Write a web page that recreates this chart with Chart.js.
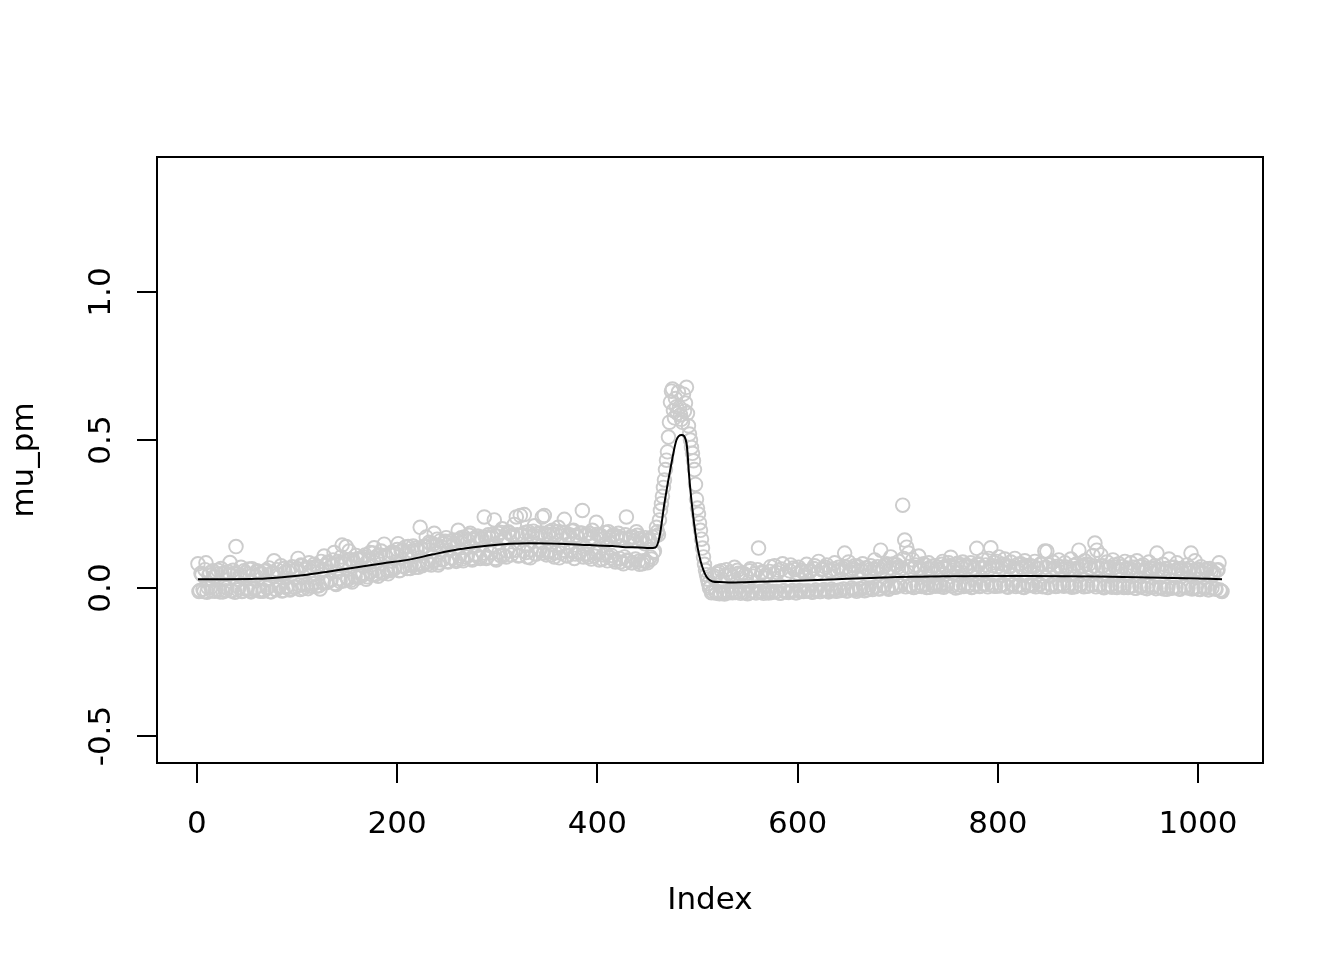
<!DOCTYPE html>
<html>
<head>
<meta charset="utf-8">
<script src="https://cdn.jsdelivr.net/npm/chart.js@4.4.1/dist/chart.umd.min.js"></script>
<style>
html,body{margin:0;padding:0;background:#ffffff;}
#wrap{width:1344px;height:960px;}
</style>
</head>
<body>
<div id="wrap"><canvas id="c" width="1344" height="960"></canvas></div>
<script>
// ---- axis ticks & labels ----
const xTicks = [0, 200, 400, 600, 800, 1000];
const xTickLabels = ["0", "200", "400", "600", "800", "1000"];
const yTicks = [-0.5, 0, 0.5, 1.0];
const yTickLabels = ["-0.5", "0.0", "0.5", "1.0"];
const xTitle = "Index";
const yTitle = "mu_pm";
const xRange = [-39.92, 1064.92];
const yRange = [-0.591, 1.456];

// ---- smooth fit (black line) ----
const fitIndex = [1, 30, 60, 90, 110, 132, 160, 185, 212, 235, 260, 292, 330, 360, 392, 415, 428, 442, 452, 458,
  462, 467, 474, 479, 484, 489, 492, 495, 500, 507, 515, 522, 535, 560, 600, 650, 700, 750, 830, 900, 950, 1000, 1024];
const fitValue = [0.030, 0.030, 0.031, 0.038, 0.045, 0.056, 0.070, 0.083, 0.096, 0.113, 0.130, 0.144, 0.151, 0.150, 0.145, 0.142, 0.138, 0.137, 0.135, 0.137,
  0.172, 0.287, 0.422, 0.500, 0.517, 0.490, 0.365, 0.264, 0.139, 0.051, 0.022, 0.020, 0.019, 0.021, 0.025, 0.031, 0.037, 0.040, 0.041, 0.039, 0.036, 0.032, 0.030];

// ---- observations (grey circles) at odd indices 1,3,...,1023 ----
const obsValueOdd = [
  0.082, -0.008, 0.045, -0.012, 0.085, 0.002, 0.052, -0.010, 0.038, -0.005, 0.060, -0.013, 0.048, 0.004, -0.009, 0.055,
  0.086, -0.010, 0.050, 0.140, -0.006, 0.042, -0.012, 0.058, 0.001, 0.047, -0.009, 0.065, -0.004, 0.040, 0.055, -0.011,
  0.048, -0.008, 0.060, 0.003, -0.012, 0.052, 0.092, -0.006, 0.045, 0.008, -0.010, 0.066, 0.002, 0.055, -0.007, 0.072,
  0.004, 0.060, 0.100, -0.005, 0.075, 0.010, 0.068, -0.002, 0.058, 0.015, 0.080, 0.006, 0.070, -0.003, 0.062, 0.108,
  0.018, 0.088, 0.025, 0.078, 0.120, 0.012, 0.090, 0.022, 0.145, 0.080, 0.140, 0.030, 0.096, 0.020, 0.085, 0.110,
  0.035, 0.098, 0.042, 0.105, 0.030, 0.092, 0.120, 0.045, 0.136, 0.100, 0.040, 0.112, 0.052, 0.148, 0.105, 0.048,
  0.058, 0.122, 0.065, 0.115, 0.150, 0.060, 0.128, 0.072, 0.118, 0.140, 0.066, 0.125, 0.080, 0.135, 0.070, 0.205,
  0.075, 0.140, 0.172, 0.082, 0.150, 0.090, 0.185, 0.145, 0.078, 0.160, 0.095, 0.150, 0.170, 0.088, 0.158, 0.100,
  0.150, 0.090, 0.195, 0.165, 0.098, 0.172, 0.105, 0.160, 0.185, 0.095, 0.168, 0.110, 0.175, 0.100, 0.165, 0.240,
  0.100, 0.180, 0.120, 0.172, 0.230, 0.095, 0.185, 0.110, 0.200, 0.168, 0.105, 0.190, 0.125, 0.178, 0.215, 0.240,
  0.108, 0.245, 0.180, 0.248, 0.120, 0.190, 0.102, 0.175, 0.210, 0.115, 0.185, 0.130, 0.240, 0.245, 0.112, 0.182,
  0.125, 0.195, 0.105, 0.180, 0.205, 0.118, 0.188, 0.232, 0.110, 0.175, 0.130, 0.192, 0.100, 0.178, 0.122, 0.185,
  0.262, 0.115, 0.182, 0.105, 0.170, 0.195, 0.108, 0.222, 0.120, 0.178, 0.098, 0.168, 0.115, 0.190, 0.102, 0.175,
  0.095, 0.170, 0.185, 0.088, 0.165, 0.105, 0.240, 0.092, 0.172, 0.085, 0.160, 0.190, 0.090, 0.168, 0.082, 0.150,
  0.090, 0.160, 0.105, 0.172, 0.125, 0.205, 0.180, 0.262, 0.310, 0.365, 0.432, 0.510, 0.628, 0.672, 0.575, 0.612,
  0.662, 0.585, 0.560, 0.598, 0.678, 0.548, 0.500, 0.455, 0.400, 0.300, 0.250, 0.195, 0.135, 0.080, 0.045, 0.015,
  0.005, -0.012, 0.040, -0.018, 0.055, -0.015, 0.030, -0.020, 0.062, -0.012, 0.045, -0.016, 0.070, -0.010, 0.050, -0.018,
  0.052, -0.015, 0.038, -0.018, 0.065, -0.012, 0.048, -0.016, 0.135, -0.014, 0.055, -0.010, 0.042, -0.017, 0.072, -0.012,
  0.075, -0.012, 0.060, -0.018, 0.082, -0.010, 0.048, -0.015, 0.078, -0.008, 0.062, -0.016, 0.070, -0.012, 0.055, -0.010,
  0.080, -0.010, 0.058, -0.014, 0.075, -0.008, 0.090, -0.012, 0.065, -0.006, 0.078, -0.013, 0.060, -0.009, 0.085, -0.011,
  0.070, -0.008, 0.066, 0.118, -0.010, 0.088, 0.062, -0.006, 0.075, -0.011, 0.058, -0.004, 0.082, -0.009, 0.068, 0.000,
  0.075, -0.005, 0.095, 0.062, -0.002, 0.128, 0.070, 0.010, 0.082, -0.004, 0.105, 0.065, 0.005, 0.078, 0.090, 0.008,
  0.280, 0.162, 0.138, 0.118, 0.010, 0.095, 0.070, 0.005, 0.108, 0.060, 0.012, 0.078, 0.002, 0.085, 0.065, 0.008,
  0.075, 0.012, 0.062, 0.005, 0.090, 0.072, 0.010, 0.085, 0.104, 0.008, 0.068, 0.080, 0.003, 0.075, 0.088, 0.012,
  0.070, 0.010, 0.085, 0.004, 0.062, 0.134, 0.078, 0.008, 0.095, 0.068, 0.012, 0.100, 0.136, 0.075, 0.006, 0.090,
  0.105, 0.010, 0.080, 0.098, 0.005, 0.072, 0.088, 0.012, 0.100, 0.065, 0.008, 0.082, 0.004, 0.092, 0.070, 0.010,
  0.075, 0.008, 0.090, 0.068, 0.012, 0.082, 0.004, 0.125, 0.124, 0.078, 0.010, 0.088, 0.065, 0.006, 0.095, 0.072,
  0.012, 0.085, 0.070, 0.008, 0.098, 0.064, 0.004, 0.082, 0.128, 0.010, 0.075, 0.092, 0.006, 0.080, 0.068, 0.110,
  0.152, 0.128, 0.010, 0.112, 0.075, 0.004, 0.088, 0.065, 0.010, 0.095, 0.070, 0.002, 0.082, 0.060, 0.008, 0.090,
  0.068, 0.005, 0.085, 0.060, 0.000, 0.092, 0.072, 0.006, 0.078, 0.058, -0.002, 0.088, 0.065, 0.004, 0.075, 0.118,
  0.062, 0.000, 0.080, 0.055, -0.004, 0.098, 0.070, 0.002, 0.058, 0.085, -0.002, 0.066, 0.050, 0.004, 0.078, 0.060,
  0.118, 0.002, 0.092, 0.060, -0.004, 0.072, 0.050, 0.000, 0.065, -0.006, 0.055, 0.045, -0.002, 0.060, 0.085, -0.010
];

// ---- observations (grey circles) at even indices 2,4,...,1024 ----
const obsValueEven = [
  -0.012, 0.050, -0.004, 0.062, -0.014, 0.044, 0.003, 0.058, -0.011, 0.048, -0.006, 0.066, -0.013, 0.052, 0.001, 0.046,
  -0.009, 0.060, -0.014, 0.047, 0.002, 0.070, -0.010, 0.052, -0.005, 0.064, -0.013, 0.045, 0.000, 0.058, -0.008, 0.050,
  -0.011, 0.056, 0.000, 0.068, -0.013, 0.049, -0.004, 0.062, 0.004, 0.075, -0.008, 0.053, 0.006, 0.066, -0.002, 0.058,
  0.002, 0.066, 0.010, 0.078, -0.002, 0.062, 0.012, 0.085, 0.006, 0.070, 0.016, 0.074, 0.008, 0.090, 0.018, 0.076,
  0.020, 0.085, 0.028, 0.095, 0.016, 0.082, 0.032, 0.105, 0.024, 0.090, 0.035, 0.125, 0.026, 0.092, 0.038, 0.098,
  0.040, 0.102, 0.050, 0.112, 0.038, 0.096, 0.055, 0.118, 0.045, 0.108, 0.058, 0.125, 0.050, 0.110, 0.060, 0.115,
  0.062, 0.118, 0.070, 0.130, 0.058, 0.124, 0.075, 0.138, 0.066, 0.122, 0.078, 0.142, 0.070, 0.128, 0.082, 0.135,
  0.080, 0.142, 0.090, 0.155, 0.078, 0.148, 0.095, 0.165, 0.085, 0.140, 0.098, 0.158, 0.090, 0.152, 0.102, 0.162,
  0.095, 0.160, 0.108, 0.170, 0.092, 0.165, 0.112, 0.178, 0.100, 0.162, 0.115, 0.175, 0.105, 0.168, 0.118, 0.172,
  0.105, 0.170, 0.118, 0.182, 0.100, 0.175, 0.122, 0.188, 0.110, 0.172, 0.125, 0.185, 0.112, 0.178, 0.128, 0.180,
  0.110, 0.178, 0.125, 0.188, 0.105, 0.182, 0.128, 0.192, 0.115, 0.175, 0.130, 0.186, 0.118, 0.180, 0.122, 0.190,
  0.112, 0.182, 0.120, 0.190, 0.102, 0.176, 0.128, 0.188, 0.108, 0.180, 0.125, 0.195, 0.115, 0.172, 0.118, 0.186,
  0.105, 0.178, 0.115, 0.185, 0.098, 0.170, 0.120, 0.182, 0.095, 0.175, 0.112, 0.188, 0.092, 0.168, 0.110, 0.180,
  0.088, 0.175, 0.100, 0.168, 0.082, 0.180, 0.095, 0.165, 0.085, 0.172, 0.098, 0.178, 0.080, 0.162, 0.092, 0.170,
  0.085, 0.165, 0.098, 0.120, 0.175, 0.190, 0.230, 0.285, 0.340, 0.400, 0.460, 0.560, 0.665, 0.600, 0.640, 0.590,
  0.610, 0.570, 0.655, 0.625, 0.590, 0.520, 0.475, 0.430, 0.350, 0.270, 0.220, 0.165, 0.105, 0.060, 0.030, 0.000,
  -0.016, 0.035, -0.010, 0.048, -0.019, 0.058, -0.013, 0.042, -0.017, 0.052, -0.008, 0.038, -0.015, 0.060, -0.011, 0.046,
  -0.014, 0.045, -0.019, 0.058, -0.010, 0.040, -0.016, 0.062, -0.012, 0.050, -0.018, 0.044, -0.009, 0.056, -0.015, 0.048,
  -0.013, 0.052, -0.017, 0.064, -0.009, 0.046, -0.014, 0.058, -0.011, 0.068, -0.016, 0.050, -0.008, 0.060, -0.012, 0.054,
  -0.010, 0.055, -0.013, 0.066, -0.007, 0.050, -0.012, 0.062, -0.006, 0.070, -0.010, 0.056, -0.004, 0.064, -0.009, 0.058,
  -0.007, 0.060, -0.003, 0.070, -0.009, 0.055, 0.000, 0.066, -0.005, 0.074, -0.002, 0.058, 0.002, 0.068, -0.006, 0.062,
  0.000, 0.064, 0.004, 0.072, -0.003, 0.060, 0.006, 0.076, 0.002, 0.068, 0.008, 0.082, 0.003, 0.070, 0.010, 0.066,
  0.100, 0.004, 0.072, 0.008, 0.064, 0.002, 0.078, 0.010, 0.068, 0.005, 0.082, 0.012, 0.066, 0.003, 0.074, 0.009,
  0.006, 0.070, 0.010, 0.080, 0.003, 0.066, 0.012, 0.076, 0.007, 0.072, 0.000, 0.084, 0.010, 0.068, 0.005, 0.078,
  0.008, 0.074, 0.002, 0.068, 0.011, 0.082, 0.005, 0.070, 0.013, 0.078, 0.004, 0.066, 0.009, 0.086, 0.006, 0.072,
  0.007, 0.068, 0.012, 0.078, 0.003, 0.072, 0.010, 0.066, 0.005, 0.080, 0.011, 0.070, 0.002, 0.076, 0.008, 0.064,
  0.010, 0.072, 0.004, 0.066, 0.012, 0.080, 0.006, 0.070, 0.002, 0.078, 0.009, 0.068, 0.005, 0.074, 0.011, 0.062,
  0.006, 0.070, 0.010, 0.064, 0.003, 0.076, 0.008, 0.068, 0.012, 0.072, 0.004, 0.080, 0.007, 0.066, 0.010, 0.074,
  0.004, 0.068, 0.009, 0.074, 0.001, 0.064, 0.007, 0.070, 0.003, 0.078, 0.006, 0.062, 0.010, 0.072, 0.002, 0.066,
  0.002, 0.064, 0.007, 0.070, -0.001, 0.060, 0.005, 0.072, 0.001, 0.066, 0.008, 0.058, 0.003, 0.068, -0.002, 0.062,
  0.003, 0.060, -0.003, 0.066, 0.004, 0.056, -0.001, 0.070, 0.002, 0.062, -0.004, 0.058, 0.005, 0.064, 0.000, 0.068,
  -0.003, 0.058, 0.002, 0.064, -0.005, 0.054, 0.001, 0.060, -0.006, 0.066, 0.000, 0.052, -0.004, 0.062, -0.007, -0.012
];

// ---- build datasets (x = observation index) ----
const obsPoints = [];
obsValueOdd.forEach((v, i) => {
  obsPoints.push({ x: 2 * i + 1, y: v });
  if (i < obsValueEven.length) obsPoints.push({ x: 2 * i + 2, y: obsValueEven[i] });
});
const fitPoints = fitIndex.map((xv, i) => ({ x: xv, y: fitValue[i] }));

const FONT = '31px "DejaVu Sans", "Liberation Sans", sans-serif';

const framePlugin = {
  id: 'framePlugin',
  afterDraw(chart) {
    const { ctx, chartArea: a, scales } = chart;
    const xs = scales.x, ys = scales.y;
    ctx.save();
    ctx.strokeStyle = '#000000';
    ctx.lineWidth = 2;
    ctx.strokeRect(a.left, a.top, a.right - a.left, a.bottom - a.top);
    ctx.fillStyle = '#000000';
    ctx.font = FONT;
    ctx.textAlign = 'center';
    ctx.textBaseline = 'alphabetic';
    xTicks.forEach((v, i) => ctx.fillText(xTickLabels[i], xs.getPixelForValue(v), a.bottom + 70));
    ctx.fillText(xTitle, (a.left + a.right) / 2, a.bottom + 146);
    yTicks.forEach((v, i) => {
      ctx.save();
      ctx.translate(a.left - 47, ys.getPixelForValue(v));
      ctx.rotate(-Math.PI / 2);
      ctx.fillText(yTickLabels[i], 0, 0);
      ctx.restore();
    });
    ctx.save();
    ctx.translate(a.left - 124, (a.top + a.bottom) / 2);
    ctx.rotate(-Math.PI / 2);
    ctx.fillText(yTitle, 0, 0);
    ctx.restore();
    ctx.restore();
  }
};

new Chart(document.getElementById('c'), {
  type: 'scatter',
  data: {
    datasets: [
      {
        type: 'line',
        label: 'fit',
        data: fitPoints,
        borderColor: '#000000',
        borderWidth: 2,
        pointRadius: 0,
        fill: false,
        cubicInterpolationMode: 'monotone',
        order: 0
      },
      {
        label: 'mu_pm',
        data: obsPoints,
        pointStyle: 'circle',
        pointRadius: 6.8,
        borderWidth: 1.9,
        borderColor: '#CCCCCC',
        backgroundColor: 'rgba(0,0,0,0)',
        order: 1
      }
    ]
  },
  options: {
    responsive: false,
    animation: false,
    events: [],
    layout: { padding: { top: 157, right: 81, left: 0, bottom: 0 } },
    plugins: { legend: { display: false }, tooltip: { enabled: false } },
    scales: {
      x: {
        type: 'linear',
        position: 'bottom',
        min: xRange[0],
        max: xRange[1],
        afterBuildTicks: s => { s.ticks = xTicks.map(v => ({ value: v })); },
        afterFit: s => { s.height = 197; },
        ticks: { display: false },
        grid: { drawOnChartArea: false, drawTicks: true, tickLength: 20, color: '#000000', lineWidth: 2 },
        border: { display: false }
      },
      y: {
        type: 'linear',
        position: 'left',
        min: yRange[0],
        max: yRange[1],
        afterBuildTicks: s => { s.ticks = yTicks.map(v => ({ value: v })); },
        afterFit: s => { s.width = 157; },
        ticks: { display: false },
        grid: { drawOnChartArea: false, drawTicks: true, tickLength: 20, color: '#000000', lineWidth: 2 },
        border: { display: false }
      }
    }
  },
  plugins: [framePlugin]
});
</script>
</body>
</html>
